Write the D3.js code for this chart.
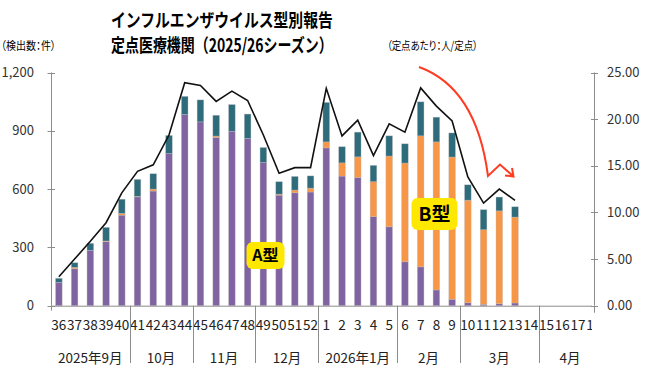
<!DOCTYPE html>
<html>
<head>
<meta charset="utf-8">
<script src="https://cdn.jsdelivr.net/npm/d3@7"></script>
<style>
  body { margin: 0; background: #fff; }
  text { font-family: "Noto Sans CJK JP", "Noto Sans", sans-serif; }
  .unit { font-feature-settings: "palt"; }
</style>
</head>
<body>
<div id="content"></div>
<script>
// weeks on the x axis (36..52 of 2025, 1..18 of 2026)
var weeks = ['36','37','38','39','40','41','42','43','44','45','46','47','48','49','50','51','52',
             '1','2','3','4','5','6','7','8','9','10','11','12','13','14','15','16','17','18'];
// counts per week (only weeks 36..13 reported)
var typeA = [120,190,285,329,466,560,590,783,984,946,866,898,861,737,569,581,585,
             812,667,660,458,406,226,200,81,33,15,7,10,14];
var typeB = [0,7,0,4,9,3,10,0,0,0,7,0,0,0,5,14,20,
             31,68,106,180,364,508,674,762,732,528,384,478,442];
var untyped = [21,24,36,70,73,87,79,93,93,113,107,137,125,77,64,70,63,
               203,83,127,84,104,99,175,127,124,79,103,71,53];
// patients per sentinel site
var perSite = [3.1,5.0,6.9,8.9,12.1,14.4,15.1,18.3,23.9,23.6,21.9,23.0,22.0,18.3,14.2,14.8,14.8,
               23.3,18.2,19.9,16.1,19.5,18.6,23.35,21.4,19.8,13.8,11.0,12.5,11.3];
// month groups: label and number of weeks
var months = [['2025年9月',5],['10月',4],['11月',4],['12月',4],['2026年1月',5],['2月',4],['3月',5],['4月',4]];
var leftTicks = [0,300,600,900,1200];
var rightTicks = [0,5,10,15,20,25];

var width = 655, height = 377;
var plotL = 51, plotR = 594, plotT = 72.5, plotB = 305.7;
var band = 15.73;

var svg = d3.select('#content').append('svg')
  .attr('width', width).attr('height', height);

var x = d3.scaleBand().domain(weeks)
  .range([plotL, plotL + band * weeks.length]).paddingInner(0.58).paddingOuter(0.29);
var y = d3.scaleLinear().domain([0, 1200]).range([plotB, plotT]);
var y2 = d3.scaleLinear().domain([0, 25]).range([plotB, plotT]);

svg.append('clipPath').attr('id', 'clip')
  .append('rect').attr('x', 0).attr('y', 0).attr('width', plotR - 2).attr('height', height);

// squeeze a text horizontally so it spans w pixels starting at x0
function fitText(t, x0, y0, w) {
  var n = t.node().getComputedTextLength();
  t.attr('transform', 'translate(' + x0 + ',' + y0 + ') scale(' + (w / n) + ',1)');
}

// titles
var t1 = svg.append('text').style('font-size', '18.5px').style('font-weight', 'bold')
  .text('インフルエンザウイルス型別報告');
fitText(t1, 111, 27, 222);
var t2 = svg.append('text').style('font-size', '18.5px').style('font-weight', 'bold')
  .text('定点医療機関（2025/26シーズン）');
fitText(t2, 111, 52, 222);
var u1 = svg.append('text').attr('class', 'unit').style('font-size', '11.5px')
  .text('（検出数：件）');
fitText(u1, 1, 49.5, 55);
var u2 = svg.append('text').attr('class', 'unit').style('font-size', '11.5px')
  .text('（定点あたり：人/定点）');
fitText(u2, 387, 49.5, 91);

// stacked bars
var data = typeA.map(function(d, i) {
  return { week: weeks[i], A: d, B: typeB[i], U: untyped[i] };
});
var stack = d3.stack().keys(['A', 'B', 'U'])(data);
var colors = { A: '#8064a2', B: '#f79646', U: '#2e6b7b' };

svg.append('g').selectAll('g')
  .data(stack).enter().append('g')
  .attr('fill', function(s) { return colors[s.key]; })
  .selectAll('rect')
  .data(function(s) { return s; }).enter().append('rect')
  .attr('x', function(d) { return x(d.data.week); })
  .attr('width', x.bandwidth())
  .attr('y', function(d) { return y(d[1]); })
  .attr('height', function(d) { return y(d[0]) - y(d[1]); })
  .attr('stroke', 'rgba(190,190,190,0.6)')
  .attr('stroke-width', 0.6);

// per-site line
var line = d3.line()
  .x(function(d, i) { return x(weeks[i]) + x.bandwidth() / 2; })
  .y(function(d) { return y2(d); });
svg.append('path').datum(perSite)
  .attr('d', line)
  .attr('fill', 'none').attr('stroke', '#111').attr('stroke-width', 1.6);

// left axis
var axisColor = '#8c8c8c';
var gl = svg.append('g');
gl.append('line').attr('x1', plotL + 0.5).attr('x2', plotL + 0.5)
  .attr('y1', plotT).attr('y2', plotB).attr('stroke', axisColor);
gl.selectAll('.tk').data(leftTicks).enter().append('line')
  .attr('x1', plotL - 3.5).attr('x2', plotL + 4)
  .attr('y1', function(d) { return Math.round(y(d)) + 0.5; })
  .attr('y2', function(d) { return Math.round(y(d)) + 0.5; })
  .attr('stroke', axisColor);
gl.selectAll('text').data(leftTicks).enter().append('text')
  .attr('x', 34).attr('y', function(d) { return y(d) + 4.5; })
  .attr('text-anchor', 'end').style('font-size', '13px').attr('fill', '#333')
  .text(d3.format(','));

// right axis
var gr = svg.append('g');
gr.append('line').attr('x1', plotR + 0.5).attr('x2', plotR + 0.5)
  .attr('y1', plotT).attr('y2', plotB).attr('stroke', axisColor);
gr.selectAll('.tk').data(rightTicks).enter().append('line')
  .attr('x1', plotR - 3).attr('x2', plotR + 4)
  .attr('y1', function(d) { return Math.round(y2(d)) + 0.5; })
  .attr('y2', function(d) { return Math.round(y2(d)) + 0.5; })
  .attr('stroke', axisColor);
gr.selectAll('text').data(rightTicks).enter().append('text')
  .attr('x', 607).attr('y', function(d) { return y2(d) + 4.5; })
  .style('font-size', '13px').attr('fill', '#333')
  .text(d3.format('.2f'));

// x axis
var gx = svg.append('g').attr('clip-path', 'url(#clip)');
gx.append('line').attr('x1', plotL).attr('x2', plotR)
  .attr('y1', plotB + 0.5).attr('y2', plotB + 0.5).attr('stroke', axisColor);
gx.selectAll('text.wk').data(weeks).enter().append('text')
  .attr('class', 'wk')
  .attr('x', function(d) { return x(d) + x.bandwidth() / 2; })
  .attr('y', 330).attr('text-anchor', 'middle')
  .style('font-size', '13.5px').attr('fill', '#222')
  .text(function(d) { return d; });

var acc = 0;
months.forEach(function(m, i) {
  var x0 = plotL + acc * band;
  var x1 = plotL + (acc + m[1]) * band;
  if (i > 0) {
    gx.append('line').attr('x1', Math.round(x0) + 0.5).attr('x2', Math.round(x0) + 0.5)
      .attr('y1', plotB).attr('y2', 363).attr('stroke', axisColor);
  }
  gx.append('text').attr('x', (x0 + x1) / 2).attr('y', 362.5)
    .attr('text-anchor', 'middle').style('font-size', '13.5px').attr('fill', '#222')
    .text(m[0]);
  acc += m[1];
});
svg.append('line').attr('x1', plotL + 0.5).attr('x2', plotL + 0.5)
  .attr('y1', plotB).attr('y2', plotB + 5).attr('stroke', axisColor);
svg.append('line').attr('x1', plotR + 0.5).attr('x2', plotR + 0.5)
  .attr('y1', plotB).attr('y2', plotB + 7).attr('stroke', axisColor);

// type labels
function tag(cx, cy, w, h, size, label) {
  svg.append('rect').attr('x', cx - w / 2).attr('y', cy - h / 2)
    .attr('width', w).attr('height', h).attr('rx', 6)
    .attr('fill', '#ffe800');
  svg.append('text').attr('x', cx).attr('y', cy + size * 0.36)
    .attr('text-anchor', 'middle').style('font-size', size + 'px')
    .style('font-weight', 'bold').attr('fill', '#000').text(label);
}
tag(265.5, 255.5, 38, 27, 16, 'A型');
tag(434.5, 214, 46, 32, 19, 'B型');

// red arrow
var red = '#ff3b22';
svg.append('path')
  .attr('d', 'M419,67 C455,80 480,115 488,176 L500,164.5 L513,176')
  .attr('fill', 'none').attr('stroke', red).attr('stroke-width', 2);
svg.append('path')
  .attr('d', 'M505,175.5 L513.5,176.5 L512,168')
  .attr('fill', 'none').attr('stroke', red).attr('stroke-width', 2);
</script>
</body>
</html>
